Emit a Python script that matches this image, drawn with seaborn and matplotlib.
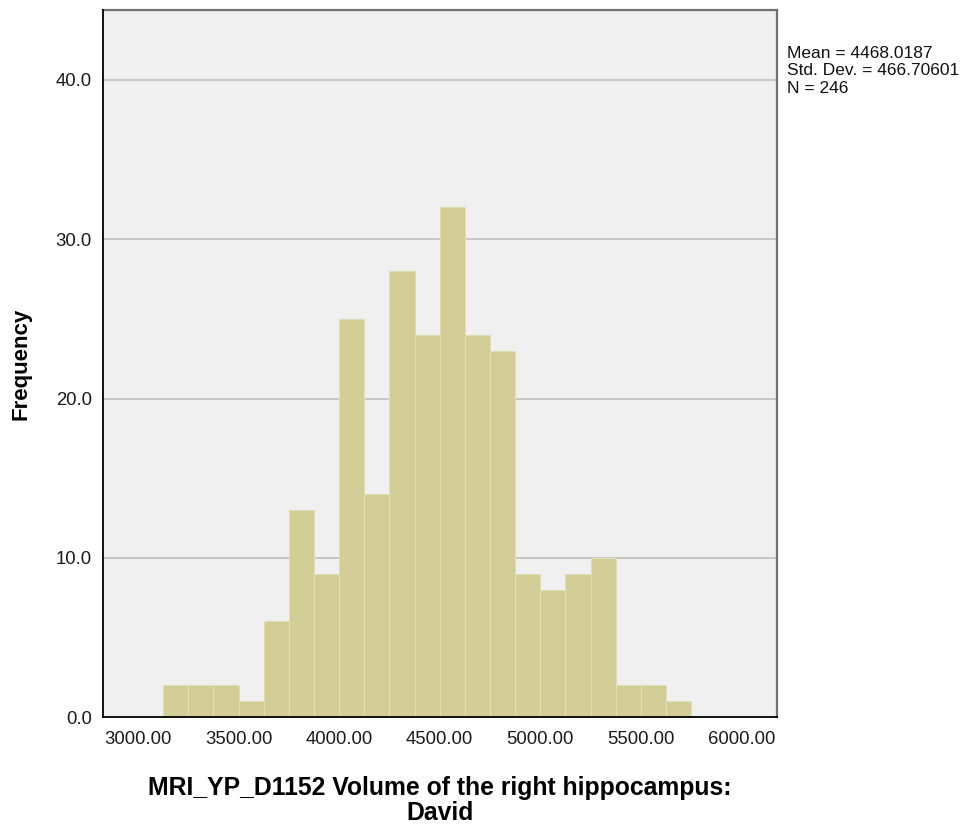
import numpy as np
import pandas as pd
import matplotlib
matplotlib.use("Agg")
import matplotlib.pyplot as plt
import seaborn as sns

# histogram bins (width 125)
bin_edges = list(range(3125, 5750 + 1, 125))
counts = [2, 2, 2, 1, 6, 13, 9, 25, 14, 28, 24, 32, 24, 23, 9, 8, 9, 10, 2, 2, 1]
x_ticks = [3000, 3500, 4000, 4500, 5000, 5500, 6000]
y_ticks = [0, 10, 20, 30, 40]
stats_text = "Mean = 4468.0187\nStd. Dev. = 466.70601\nN = 246"
x_label = "MRI_YP_D1152 Volume of the right hippocampus:\nDavid"

df = pd.DataFrame({
    "volume": [e + 62.5 for e in bin_edges[:-1]],
    "count": counts,
})

sns.set_style("white")
plt.rcParams["font.family"] = ["Liberation Sans", "DejaVu Sans"]

fig = plt.figure(figsize=(9.71, 8.27), dpi=100)
ax = fig.add_axes([0.106, 0.133, 0.694, 0.855])
ax.set_facecolor("#F0F0F0")

sns.histplot(data=df, x="volume", weights="count", bins=bin_edges, ax=ax,
             color="#D3CE97", alpha=1, edgecolor="#E2DFB8", linewidth=0.8,
             zorder=2)

ax.set_xlim(2826, 6176)
ax.set_ylim(0, 44.4)
ax.set_xticks(x_ticks)
ax.set_xticklabels([f"{v:.2f}" for v in x_ticks], fontsize=13.3)
ax.set_yticks(y_ticks)
ax.set_yticklabels([f"{v:.1f}" for v in y_ticks], fontsize=13.3)
ax.tick_params(axis="x", length=0, pad=10, colors="#1a1a1a")
ax.tick_params(axis="y", length=0, pad=8, colors="#1a1a1a")
ax.yaxis.grid(True, color="#C4C4C4", linewidth=1.3, zorder=0)
ax.set_axisbelow(True)

for side in ["left", "bottom"]:
    ax.spines[side].set_color("black")
    ax.spines[side].set_linewidth(1.3)
for side in ["top", "right"]:
    ax.spines[side].set_color("#707070")
    ax.spines[side].set_linewidth(1.6)
ax.spines["left"].set_zorder(3)
ax.spines["bottom"].set_zorder(3)

ax.set_ylabel("Frequency", fontsize=16, fontweight="bold", labelpad=17,
              color="black")
ax.set_xlabel(x_label, fontsize=17.8, fontweight="bold", labelpad=20,
              linespacing=1.05, color="black")

fig.text(0.811, 0.944, stats_text, fontsize=12.5, va="top", ha="left",
         linespacing=1.18, color="#111111")

fig.savefig("out.png", dpi=100)
